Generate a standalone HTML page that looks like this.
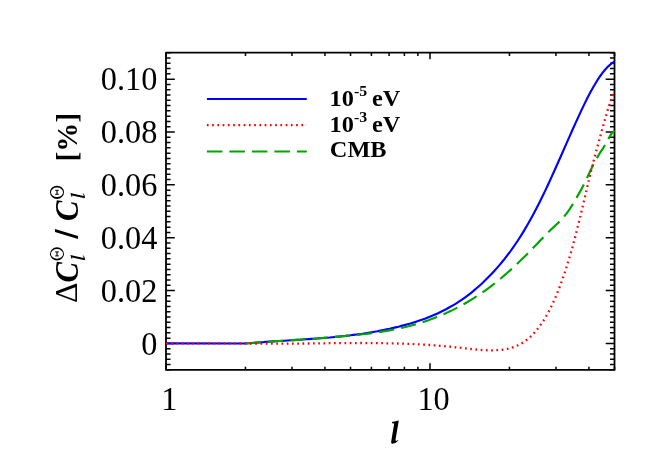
<!DOCTYPE html>
<html><head><meta charset="utf-8">
<style>
html,body{margin:0;padding:0;background:#fff;}
svg{display:block;will-change:transform;}
text{font-family:"Liberation Serif",serif;fill:#000;}
.tl{font-size:34.2px;}
.lg{font-size:23.3px;font-weight:bold;}
</style></head>
<body>
<svg width="664" height="475" viewBox="0 0 664 475">
<rect width="664" height="475" fill="#fff"/>
<!-- legend -->
<g fill="none" stroke-width="2">
<path d="M206.9,98.97H306.8" stroke="#0000ff"/>
<path d="M206.9,125.15H306.8" stroke="#ff0000" stroke-width="2.2" stroke-dasharray="1.7 3.55"/>
<path d="M206.9,151.5H306.8" stroke="#00a500" stroke-dasharray="15.5 7"/>
</g>
<text class="lg" transform="translate(329.6,105.6) scale(1.045,1)">10<tspan font-size="15.2" dy="-9.5">-5</tspan><tspan dy="9.5" dx="-1.3"> eV</tspan></text>
<text class="lg" transform="translate(329.6,131.5) scale(1.045,1)">10<tspan font-size="15.2" dy="-9.5">-3</tspan><tspan dy="9.5" dx="-1.3"> eV</tspan></text>
<text class="lg" transform="translate(329.8,157.3) scale(1.045,1)">CMB</text>
<!-- frame -->
<rect x="166.0" y="52.7" width="448.5" height="317.2" fill="none" stroke="#000" stroke-width="1.8" stroke-linejoin="round"/>
<path d="M166.0,369.85h4.5 M614.5,369.85h-4.5 M166.0,364.56h4.5 M614.5,364.56h-4.5 M166.0,359.28h4.5 M614.5,359.28h-4.5 M166.0,353.99h4.5 M614.5,353.99h-4.5 M166.0,348.71h4.5 M614.5,348.71h-4.5 M166.0,343.42h8.8 M614.5,343.42h-8.8 M166.0,338.13h4.5 M614.5,338.13h-4.5 M166.0,332.85h4.5 M614.5,332.85h-4.5 M166.0,327.56h4.5 M614.5,327.56h-4.5 M166.0,322.28h4.5 M614.5,322.28h-4.5 M166.0,316.99h4.5 M614.5,316.99h-4.5 M166.0,311.71h4.5 M614.5,311.71h-4.5 M166.0,306.42h4.5 M614.5,306.42h-4.5 M166.0,301.13h4.5 M614.5,301.13h-4.5 M166.0,295.85h4.5 M614.5,295.85h-4.5 M166.0,290.56h8.8 M614.5,290.56h-8.8 M166.0,285.28h4.5 M614.5,285.28h-4.5 M166.0,279.99h4.5 M614.5,279.99h-4.5 M166.0,274.70h4.5 M614.5,274.70h-4.5 M166.0,269.42h4.5 M614.5,269.42h-4.5 M166.0,264.13h4.5 M614.5,264.13h-4.5 M166.0,258.85h4.5 M614.5,258.85h-4.5 M166.0,253.56h4.5 M614.5,253.56h-4.5 M166.0,248.28h4.5 M614.5,248.28h-4.5 M166.0,242.99h4.5 M614.5,242.99h-4.5 M166.0,237.70h8.8 M614.5,237.70h-8.8 M166.0,232.42h4.5 M614.5,232.42h-4.5 M166.0,227.13h4.5 M614.5,227.13h-4.5 M166.0,221.85h4.5 M614.5,221.85h-4.5 M166.0,216.56h4.5 M614.5,216.56h-4.5 M166.0,211.28h4.5 M614.5,211.28h-4.5 M166.0,205.99h4.5 M614.5,205.99h-4.5 M166.0,200.70h4.5 M614.5,200.70h-4.5 M166.0,195.42h4.5 M614.5,195.42h-4.5 M166.0,190.13h4.5 M614.5,190.13h-4.5 M166.0,184.85h8.8 M614.5,184.85h-8.8 M166.0,179.56h4.5 M614.5,179.56h-4.5 M166.0,174.27h4.5 M614.5,174.27h-4.5 M166.0,168.99h4.5 M614.5,168.99h-4.5 M166.0,163.70h4.5 M614.5,163.70h-4.5 M166.0,158.42h4.5 M614.5,158.42h-4.5 M166.0,153.13h4.5 M614.5,153.13h-4.5 M166.0,147.84h4.5 M614.5,147.84h-4.5 M166.0,142.56h4.5 M614.5,142.56h-4.5 M166.0,137.27h4.5 M614.5,137.27h-4.5 M166.0,131.99h8.8 M614.5,131.99h-8.8 M166.0,126.70h4.5 M614.5,126.70h-4.5 M166.0,121.42h4.5 M614.5,121.42h-4.5 M166.0,116.13h4.5 M614.5,116.13h-4.5 M166.0,110.84h4.5 M614.5,110.84h-4.5 M166.0,105.56h4.5 M614.5,105.56h-4.5 M166.0,100.27h4.5 M614.5,100.27h-4.5 M166.0,94.99h4.5 M614.5,94.99h-4.5 M166.0,89.70h4.5 M614.5,89.70h-4.5 M166.0,84.41h4.5 M614.5,84.41h-4.5 M166.0,79.13h8.8 M614.5,79.13h-8.8 M166.0,73.84h4.5 M614.5,73.84h-4.5 M166.0,68.56h4.5 M614.5,68.56h-4.5 M166.0,63.27h4.5 M614.5,63.27h-4.5 M166.0,57.99h4.5 M614.5,57.99h-4.5 M166.0,52.70h4.5 M614.5,52.70h-4.5 M166.00,369.9v-6.6 M166.00,52.7v6.6 M245.47,369.9v-3.2 M245.47,52.7v3.2 M291.95,369.9v-3.2 M291.95,52.7v3.2 M324.93,369.9v-3.2 M324.93,52.7v3.2 M350.52,369.9v-3.2 M350.52,52.7v3.2 M371.42,369.9v-3.2 M371.42,52.7v3.2 M389.09,369.9v-3.2 M389.09,52.7v3.2 M404.40,369.9v-3.2 M404.40,52.7v3.2 M417.90,369.9v-3.2 M417.90,52.7v3.2 M429.98,369.9v-6.6 M429.98,52.7v6.6 M509.45,369.9v-3.2 M509.45,52.7v3.2 M555.94,369.9v-3.2 M555.94,52.7v3.2 M588.92,369.9v-3.2 M588.92,52.7v3.2 M614.50,369.9v-3.2 M614.50,52.7v3.2" stroke="#000" stroke-width="1.5" fill="none"/>
<!-- curves -->
<g fill="none" stroke-width="2.15" stroke-linejoin="round">
<path d="M166.0,343.4 L245.5,343.5 L248.5,343.2 L251.5,343.0 L254.5,342.7 L257.5,342.5 L260.5,342.3 L263.5,342.1 L266.5,341.8 L269.5,341.6 L272.5,341.4 L275.5,341.2 L278.5,341.0 L281.5,340.9 L284.5,340.7 L287.5,340.5 L290.5,340.3 L293.5,340.1 L296.5,339.9 L299.5,339.7 L302.5,339.5 L305.5,339.3 L308.5,339.1 L311.5,338.9 L314.5,338.7 L317.5,338.5 L320.5,338.2 L323.5,338.0 L326.5,337.7 L329.5,337.5 L332.5,337.2 L335.5,336.9 L338.5,336.6 L341.5,336.3 L344.5,336.0 L347.5,335.6 L350.5,335.3 L353.5,334.9 L356.5,334.5 L359.5,334.1 L362.5,333.7 L365.5,333.2 L368.5,332.7 L371.5,332.2 L374.5,331.7 L377.5,331.2 L380.5,330.6 L383.5,330.0 L386.5,329.4 L389.5,328.8 L392.5,328.1 L395.5,327.4 L398.5,326.7 L401.5,325.9 L404.5,325.1 L407.5,324.3 L410.5,323.5 L413.5,322.5 L416.5,321.6 L419.5,320.6 L422.5,319.6 L425.5,318.5 L428.5,317.3 L431.5,316.1 L434.5,314.8 L437.5,313.5 L440.5,312.0 L443.5,310.5 L446.5,309.0 L449.5,307.3 L452.5,305.6 L455.5,303.8 L458.5,301.9 L461.5,299.9 L464.5,297.8 L467.5,295.6 L470.5,293.3 L473.5,290.9 L476.5,288.3 L479.5,285.7 L482.5,283.0 L485.5,280.1 L488.5,277.1 L491.5,274.0 L494.5,270.8 L497.5,267.4 L500.5,263.9 L503.5,260.3 L506.5,256.4 L509.5,252.5 L512.5,248.3 L515.5,244.0 L518.5,239.5 L521.5,234.8 L524.5,229.9 L527.5,224.8 L530.5,219.5 L533.5,214.0 L536.5,208.3 L539.5,202.4 L542.5,196.3 L545.5,190.1 L548.5,183.7 L551.5,177.1 L554.5,170.5 L557.5,163.8 L560.5,157.0 L563.5,150.2 L566.5,143.4 L569.5,136.6 L572.5,129.8 L575.5,123.1 L578.5,116.6 L581.5,110.1 L584.5,103.9 L587.5,97.8 L590.5,92.1 L593.5,86.7 L596.5,81.7 L599.5,77.0 L602.5,72.9 L605.5,69.2 L608.5,66.1 L611.5,63.5 L614.5,61.6" stroke="#0000ff"/>
<path d="M245.5,343.4 L248.5,343.2 L251.5,343.0 L254.5,342.8 L257.5,342.6 L260.5,342.4 L263.5,342.2 L266.5,342.0 L269.5,341.8 L272.5,341.6 L275.5,341.3 L278.5,341.1 L281.5,340.9 L284.5,340.7 L287.5,340.5 L290.5,340.3 L293.5,340.1 L296.5,339.9 L299.5,339.7 L302.5,339.5 L305.5,339.2 L308.5,339.0 L311.5,338.8 L314.5,338.6 L317.5,338.3 L320.5,338.1 L323.5,337.9 L326.5,337.6 L329.5,337.4 L332.5,337.2 L335.5,336.9 L338.5,336.6 L341.5,336.4 L344.5,336.1 L347.5,335.8 L350.5,335.6 L353.5,335.3 L356.5,335.0 L359.5,334.6 L362.5,334.3 L365.5,334.0 L368.5,333.6 L371.5,333.2 L374.5,332.8 L377.5,332.4 L380.5,331.9 L383.5,331.4 L386.5,330.9 L389.5,330.4 L392.5,329.8 L395.5,329.2 L398.5,328.6 L401.5,327.9 L404.5,327.2 L407.5,326.5 L410.5,325.7 L413.5,324.9 L416.5,324.0 L419.5,323.1 L422.5,322.2 L425.5,321.2 L428.5,320.2 L431.5,319.1 L434.5,317.9 L437.5,316.7 L440.5,315.5 L443.5,314.2 L446.5,312.9 L449.5,311.5 L452.5,310.1 L455.5,308.6 L458.5,307.0 L461.5,305.4 L464.5,303.7 L467.5,302.0 L470.5,300.2 L473.5,298.3 L476.5,296.4 L479.5,294.4 L482.5,292.4 L485.5,290.3 L488.5,288.1 L491.5,285.8 L494.5,283.5 L497.5,281.1 L500.5,278.7 L503.5,276.1 L506.5,273.5 L509.5,270.9 L512.5,268.1 L515.5,265.4 L518.5,262.5 L521.5,259.6 L524.5,256.7 L527.5,253.7 L530.5,250.6 L533.5,247.5 L536.5,244.4 L539.5,241.3 L542.5,238.2 L545.5,235.1 L548.5,232.1 L551.5,229.1 L554.5,226.3 L557.5,223.5 L560.5,220.6 L563.5,217.3 L566.5,213.6 L569.5,209.3 L572.5,204.7 L575.5,199.6 L578.5,194.4 L581.5,189.1 L584.5,183.2 L587.5,176.9 L590.5,170.5 L593.5,164.3 L596.5,158.6 L599.5,153.7 L602.5,149.2 L605.5,144.2 L608.5,138.6 L611.5,133.6 L614.5,130.8" stroke="#00a500" stroke-dasharray="15.4 6.95"/>
<path d="M166.0,343.4 L245.5,343.4 L247.5,343.4 L249.5,343.5 L251.5,343.5 L253.5,343.5 L255.5,343.6 L257.5,343.6 L259.5,343.6 L261.5,343.6 L263.5,343.6 L265.5,343.7 L267.5,343.7 L269.5,343.7 L271.5,343.7 L273.5,343.7 L275.5,343.7 L277.5,343.7 L279.5,343.7 L281.5,343.7 L283.5,343.7 L285.5,343.7 L287.5,343.6 L289.5,343.6 L291.5,343.6 L293.5,343.6 L295.5,343.6 L297.5,343.6 L299.5,343.6 L301.5,343.5 L303.5,343.5 L305.5,343.5 L307.5,343.5 L309.5,343.5 L311.5,343.4 L313.5,343.4 L315.5,343.4 L317.5,343.4 L319.5,343.3 L321.5,343.3 L323.5,343.3 L325.5,343.3 L327.5,343.3 L329.5,343.2 L331.5,343.2 L333.5,343.2 L335.5,343.2 L337.5,343.2 L339.5,343.1 L341.5,343.1 L343.5,343.1 L345.5,343.1 L347.5,343.1 L349.5,343.1 L351.5,343.1 L353.5,343.1 L355.5,343.1 L357.5,343.0 L359.5,343.0 L361.5,343.0 L363.5,343.0 L365.5,343.1 L367.5,343.1 L369.5,343.1 L371.5,343.1 L373.5,343.1 L375.5,343.1 L377.5,343.1 L379.5,343.2 L381.5,343.2 L383.5,343.2 L385.5,343.3 L387.5,343.3 L389.5,343.3 L391.5,343.4 L393.5,343.4 L395.5,343.5 L397.5,343.5 L399.5,343.6 L401.5,343.6 L403.5,343.7 L405.5,343.8 L407.5,343.9 L409.5,343.9 L411.5,344.0 L413.5,344.1 L415.5,344.2 L417.5,344.3 L419.5,344.4 L421.5,344.5 L423.5,344.6 L425.5,344.8 L427.5,344.9 L429.5,345.0 L431.5,345.2 L433.5,345.3 L435.5,345.4 L437.5,345.6 L439.5,345.8 L441.5,345.9 L443.5,346.1 L445.5,346.3 L447.5,346.5 L449.5,346.6 L451.5,346.8 L453.5,347.0 L455.5,347.3 L457.5,347.5 L459.5,347.7 L461.5,347.9 L463.5,348.2 L465.5,348.4 L467.5,348.6 L469.5,348.9 L471.5,349.1 L473.5,349.3 L475.5,349.5 L477.5,349.7 L479.5,349.9 L481.5,350.0 L483.5,350.1 L485.5,350.2 L487.5,350.3 L489.5,350.3 L491.5,350.4 L493.5,350.3 L495.5,350.2 L497.5,350.1 L499.5,350.0 L501.5,349.8 L503.5,349.5 L505.5,349.2 L507.5,348.8 L509.5,348.3 L511.5,347.8 L513.5,347.1 L515.5,346.4 L517.5,345.5 L519.5,344.6 L521.5,343.5 L523.5,342.2 L525.5,340.8 L527.5,339.3 L529.5,337.6 L531.5,335.8 L533.5,333.7 L535.5,331.5 L537.5,329.1 L539.5,326.5 L541.5,323.6 L543.5,320.6 L545.5,317.3 L547.5,313.8 L549.5,310.1 L551.5,306.1 L553.5,301.8 L555.5,297.3 L557.5,292.5 L559.5,287.4 L561.5,282.0 L563.5,276.3 L565.5,270.3 L567.5,264.0 L569.5,257.4 L571.5,250.5 L573.5,243.2 L575.5,235.6 L577.5,227.7 L579.5,219.7 L581.5,211.4 L583.5,202.9 L585.5,194.4 L587.5,185.8 L589.5,177.4 L591.5,169.2 L593.5,161.4 L595.5,153.8 L597.5,146.4 L599.5,139.1 L601.5,131.8 L603.5,124.6 L605.5,117.5 L607.5,110.7 L609.5,104.3 L611.5,98.7 L613.5,93.8 L614.5,91.7" stroke="#ff0000" stroke-width="2.3" stroke-dasharray="1.7 3.55"/>
</g>
<!-- tick labels -->
<text transform="translate(157.3,90.3) scale(0.945,1)" text-anchor="end" class="tl">0.10</text>
<text transform="translate(157.3,143.2) scale(0.945,1)" text-anchor="end" class="tl">0.08</text>
<text transform="translate(157.3,196.0) scale(0.945,1)" text-anchor="end" class="tl">0.06</text>
<text transform="translate(157.3,248.9) scale(0.945,1)" text-anchor="end" class="tl">0.04</text>
<text transform="translate(157.3,301.8) scale(0.945,1)" text-anchor="end" class="tl">0.02</text>
<text transform="translate(157.3,354.6) scale(0.945,1)" text-anchor="end" class="tl">0</text>

<text transform="translate(161.2,410.2) scale(0.945,1)" class="tl">1</text>
<text transform="translate(417.4,410.2) scale(0.945,1)" class="tl">10</text>
<path d="M392.0,422.1 L398.8,420.5 L395.4,440.3 Q396.3,441.6 397.9,439.9 L398.4,440.5 Q395.6,443.9 391.8,443.7 Q390.9,443.2 391.2,441.6 L394.2,423.6 L392.1,423.2 Z" fill="#000"/>
<!-- y label -->
<g transform="translate(77.4,302.4) rotate(-90)">
<text x="-0.6" y="0" style="font-size:32px">Δ</text>
<text transform="translate(19.8,0.6) scale(0.93,1)" style="font-size:33px;font-weight:bold;font-style:italic">C</text>
<path d="M43.6,-5.9 L47.3,-7.0 L44.3,6.0 Q45.2,6.9 46.7,5.3 L47.2,5.7 Q45.5,7.8 43.0,7.6 Q42.0,7.3 42.3,6.3 L45.0,-5.3 L43.7,-5.1 Z" fill="#000"/>
<g transform="translate(48.5,-20.4)"><path fill-rule="evenodd" fill="#000" d="M-6.65,0 A6.65,7.0 0 1,0 6.65,0 A6.65,7.0 0 1,0 -6.65,0 Z M-4.8,0 A4.8,6.05 0 1,0 4.8,0 A4.8,6.05 0 1,0 -4.8,0 Z"/><path d="M-2.2,0H2.2" stroke="#000" stroke-width="1.15" fill="none"/><path d="M-2.0,-1.9v3.8M2.0,-1.9v3.8" stroke="#000" stroke-width="0.9" fill="none"/></g>
<polygon points="63.5,0.6 66.3,0.6 73.3,-22.4 70.5,-22.4" fill="#000"/>
<text transform="translate(81.3,0.6) scale(0.93,1)" style="font-size:33px;font-weight:bold;font-style:italic">C</text>
<path transform="translate(62,0)" d="M43.6,-5.9 L47.3,-7.0 L44.3,6.0 Q45.2,6.9 46.7,5.3 L47.2,5.7 Q45.5,7.8 43.0,7.6 Q42.0,7.3 42.3,6.3 L45.0,-5.3 L43.7,-5.1 Z" fill="#000"/>
<g transform="translate(110.1,-20.4)"><path fill-rule="evenodd" fill="#000" d="M-6.65,0 A6.65,7.0 0 1,0 6.65,0 A6.65,7.0 0 1,0 -6.65,0 Z M-4.8,0 A4.8,6.05 0 1,0 4.8,0 A4.8,6.05 0 1,0 -4.8,0 Z"/><path d="M-2.2,0H2.2" stroke="#000" stroke-width="1.15" fill="none"/><path d="M-2.0,-1.9v3.8M2.0,-1.9v3.8" stroke="#000" stroke-width="0.9" fill="none"/></g>
<text transform="translate(141,0) scale(0.97,1)" style="font-size:30px;font-weight:bold">[%]</text>
</g>
</svg>
</body></html>
